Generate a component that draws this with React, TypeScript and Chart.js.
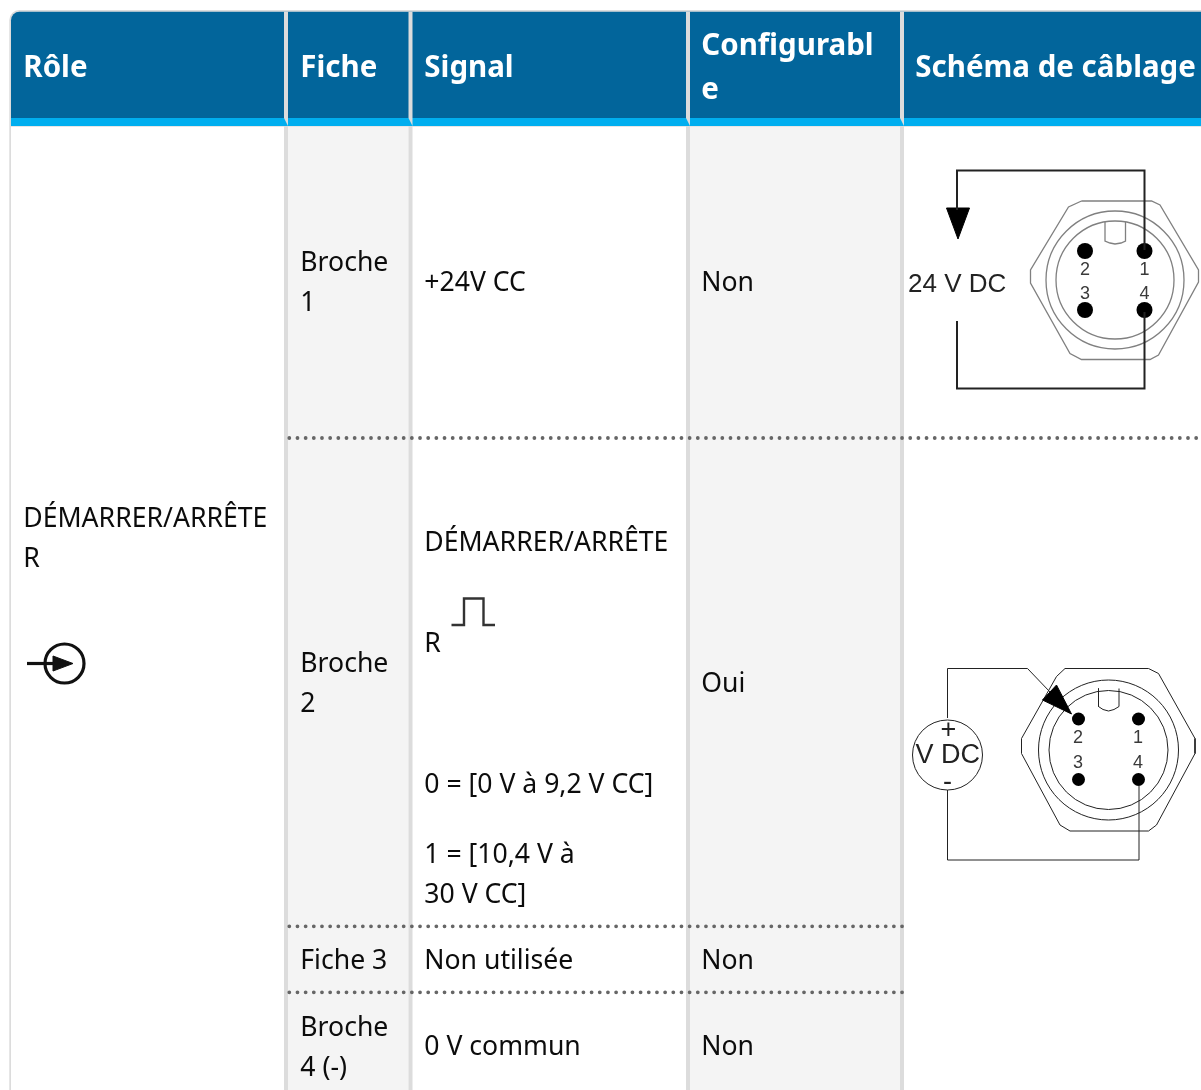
import React, { useEffect, useRef } from "react";
import { Chart, registerables } from "chart.js";

Chart.register(...registerables);

type P = { x: number; y: number };
const pts = (...v: number[]): P[] => {
  const out: P[] = [];
  for (let i = 0; i < v.length; i += 2) out.push({ x: v[i], y: v[i + 1] });
  return out;
};

// ---- table content ----
const headers = ["Rôle", "Fiche", "Signal", "Configurabl|e", "Schéma de câblage"];
const roleLines = ["DÉMARRER/ARRÊTE", "R"];
const pinLabels = ["Broche|1", "Broche|2", "Fiche 3", "Broche|4 (-)"];
const signalLabels = ["+24V CC", "DÉMARRER/ARRÊTE", "R", "0 = [0 V à 9,2 V CC]", "1 = [10,4 V à", "30 V CC]", "Non utilisée", "0 V commun"];
const configLabels = ["Non", "Oui", "Non", "Non"];

// ---- table grid, in the picture's own units ----
const colX = [23.3, 300.3, 424.3, 701.3, 915.3];
const separators = [284, 408.5, 686, 900];
const shadedCols = [[288, 408.5], [690, 900]];
const pinBaselines = [[271, 311], [672, 712], [969], [1036, 1076]];
const signalBaselines = [291, 551, 652, 793, 863, 903, 969, 1055];
const configBaselines = [291, 692, 969, 1055];
const roleBaselines = [527, 567];
const dottedRows = pts(289.3, 438, 1197, 438);
const dottedRow2 = pts(289.3, 926.3, 905, 926.3);
const dottedRow3 = pts(289.3, 992.3, 905, 992.3);

// ---- symbols ----
const pulse = pts(451.5, 625, 464, 625, 464, 598.5, 483.5, 598.5, 483.5, 625, 495, 625);
const startRing = pts(64.5, 663.5);
const startStem = pts(27, 663.5, 54, 663.5);
const startArrow = pts(53, 656, 73, 663.5, 53, 671, 53, 656);

// ---- wiring diagram 1 ----
const d1WireTop = pts(957, 210, 957, 170.5, 1144.5, 170.5, 1144.5, 250);
const d1WireBottom = pts(957, 321, 957, 388.5, 1144.5, 388.5, 1144.5, 312);
const d1Arrow = pts(946.5, 208, 969.5, 208, 958, 239, 946.5, 208);
const d1Pins = pts(1085, 251, 1144.5, 251, 1085, 310, 1144.5, 310);
const d1Center = pts(1115, 280);
const d1Nut = pts(1081.5, 201, 1151.5, 201, 1160, 205, 1198.5, 270, 1198.5, 282, 1158.5, 355, 1150, 359.5, 1081.5, 359.5, 1070, 353.5, 1030.5, 283, 1030.5, 270, 1068.5, 207, 1081.5, 201);
const d1Key = pts(1105, 222, 1105, 241, 1110, 243, 1115, 244, 1121, 243, 1125.5, 241, 1125.5, 222);

// ---- wiring diagram 2 ----
const d2WireTop = pts(947.5, 718, 947.5, 668.5, 1027.5, 668.5, 1050, 692);
const d2WireBottom = pts(947.5, 790, 947.5, 860, 1139, 860, 1139, 785);
const d2Arrow = pts(1042.5, 700, 1056.5, 685, 1071.5, 714, 1042.5, 700);
const d2Pins = pts(1078.5, 719, 1138.5, 719, 1078.5, 779.5, 1138.5, 779.5);
const d2Center = pts(1108.5, 750);
const d2Source = pts(947.5, 755);
const d2Nut = pts(1065, 668.5, 1148.5, 668.5, 1158.5, 673.5, 1195, 738.5, 1195, 753.5, 1156.5, 825, 1148.5, 831, 1070, 831, 1060, 825, 1021.5, 753.5, 1021.5, 738.5, 1056.5, 676.5, 1065, 668.5);
const d2Key = pts(1098.5, 688.5, 1098.5, 706.5, 1103, 709.5, 1108.5, 711, 1114, 709.5, 1119, 706.5, 1119, 688.5);

// ---- diagram labels ----
const digits = ["2", "1", "3", "4"];
const d1DigitSpots = pts(1085, 274.5, 1144.5, 274.5, 1085, 298.5, 1144.5, 298.5);
const d2DigitSpots = pts(1078, 743, 1138, 743, 1078, 768, 1138, 768);

const BLUE = "#02659b";
const STRIPE = "#00aeef";
const RULE = "#dcdcdc";
const SHADE = "#f4f4f4";
const INK = "#0c0c0c";

const line = (data: P[], color: string, width: number, extra: object = {}) => ({
  data, showLine: true, borderColor: color, borderWidth: width, pointRadius: 0, clip: false, tension: 0, fill: false, ...extra,
});
const dots = (data: P[], color: string, radius: number, extra: object = {}) => ({
  data, showLine: false, pointStyle: "circle", pointRadius: radius, pointBackgroundColor: color, pointBorderColor: color, pointBorderWidth: 0, clip: false, ...extra,
});
const ring = (data: P[], color: string, radius: number, width: number) => ({
  data, showLine: false, pointStyle: "circle", pointRadius: radius, pointBackgroundColor: "rgba(0,0,0,0)", pointBorderColor: color, pointBorderWidth: width, clip: false,
});
const solid = (data: P[], color: string) => line(data, color, 1, { fill: "shape", backgroundColor: color });
const dotted = (data: P[]) => line(data, "#666666", 3.8, { borderDash: [0, 8.17], borderCapStyle: "round" });

const tablePlugin = {
  id: "table",
  beforeDatasetsDraw(chart: any) {
    const { ctx, scales } = chart;
    const X = (v: number) => scales.x.getPixelForValue(v);
    const Y = (v: number) => scales.y.getPixelForValue(v);
    const rect = (x0: number, y0: number, x1: number, y1: number, c: string) => {
      ctx.fillStyle = c;
      ctx.fillRect(X(x0), Y(y0), X(x1) - X(x0), Y(y1) - Y(y0));
    };
    ctx.save();
    rect(0, 0, 1201, 1090, "#ffffff");
    // outer frame + rounded header
    ctx.fillStyle = RULE;
    ctx.beginPath();
    ctx.roundRect(X(9.3), Y(10), X(1210) - X(9.3), Y(1100) - Y(10), [10, 0, 0, 0]);
    ctx.fill();
    rect(11, 126, 1201, 1090, "#ffffff");
    rect(11, 126, 1201, 127, "#e6e6e6");
    for (const [a, b] of shadedCols) rect(a, 127, b, 1090, SHADE);
    ctx.fillStyle = BLUE;
    ctx.beginPath();
    ctx.roundRect(X(11), Y(11.7), X(1210) - X(11), Y(118) - Y(11.7), [8.5, 0, 0, 0]);
    ctx.fill();
    rect(11, 118, 1201, 126, STRIPE);
    for (const s of separators) {
      rect(s, 11.7, s + 4, 118, RULE);
      rect(s, 126, s + 4, 1090, RULE);
      ctx.fillStyle = RULE;
      ctx.beginPath();
      ctx.moveTo(X(s), Y(118));
      ctx.lineTo(X(s + 4), Y(118));
      ctx.lineTo(X(s + 4), Y(126));
      ctx.closePath();
      ctx.fill();
    }
    ctx.restore();
  },
  afterDatasetsDraw(chart: any) {
    const { ctx, scales } = chart;
    const X = (v: number) => scales.x.getPixelForValue(v);
    const Y = (v: number) => scales.y.getPixelForValue(v);
    ctx.save();
    ctx.textBaseline = "alphabetic";
    ctx.textAlign = "left";
    // header
    ctx.font = 'bold 29.5px "Noto Sans"';
    ctx.fillStyle = "#ffffff";
    headers.forEach((h, i) => {
      const parts = h.split("|");
      const base = parts.length > 1 ? [54.5, 98.5] : [76.5];
      parts.forEach((p, j) => ctx.fillText(p, X(colX[i]), Y(base[j])));
    });
    // body
    ctx.font = '26.6px "Noto Sans"';
    ctx.fillStyle = INK;
    roleLines.forEach((t, i) => ctx.fillText(t, X(colX[0]), Y(roleBaselines[i])));
    pinLabels.forEach((t, i) => t.split("|").forEach((p, j) => ctx.fillText(p, X(colX[1]), Y(pinBaselines[i][j]))));
    signalLabels.forEach((t, i) => ctx.fillText(t, X(colX[2]), Y(signalBaselines[i])));
    configLabels.forEach((t, i) => ctx.fillText(t, X(colX[3]), Y(configBaselines[i])));
    // diagrams
    ctx.font = '26px "Liberation Sans"';
    ctx.fillStyle = "#222222";
    ctx.fillText("24 V DC", X(908), Y(292));
    ctx.font = '27px "Liberation Sans"';
    ctx.fillText("V DC", X(915.5), Y(763));
    ctx.textAlign = "center";
    ctx.fillText("+", X(948.5), Y(738));
    ctx.fillText("-", X(947.5), Y(790));
    ctx.font = '18px "Liberation Sans"';
    ctx.fillStyle = "#3a3a3a";
    digits.forEach((d, i) => {
      ctx.fillText(d, X(d1DigitSpots[i].x), Y(d1DigitSpots[i].y));
      ctx.fillText(d, X(d2DigitSpots[i].x), Y(d2DigitSpots[i].y));
    });
    ctx.restore();
  },
};

export default function App() {
  const ref = useRef<HTMLCanvasElement | null>(null);
  useEffect(() => {
    document.body.style.margin = "0";
    document.body.style.overflow = "hidden";
    const chart = new Chart(ref.current!, {
      type: "scatter",
      data: {
        datasets: [
          dotted(dottedRows), dotted(dottedRow2), dotted(dottedRow3),
          line(pulse, "#333333", 2.4),
          ring(startRing, "#111111", 19.5, 3.2),
          line(startStem, "#111111", 3.2),
          solid(startArrow, "#111111"),
          line(d1WireTop, "#222222", 2), line(d1WireBottom, "#222222", 2),
          solid(d1Arrow, "#000000"),
          dots(d1Pins, "#000000", 8),
          ring(d1Center, "#808080", 69, 1.3), ring(d1Center, "#808080", 59, 1.3),
          line(d1Nut, "#808080", 1.3), line(d1Key, "#808080", 1.3),
          line(d2WireTop, "#222222", 1), line(d2WireBottom, "#222222", 1),
          solid(d2Arrow, "#000000"),
          dots(d2Pins, "#000000", 6.5),
          ring(d2Source, "#222222", 35, 1),
          ring(d2Center, "#222222", 70, 1), ring(d2Center, "#222222", 59.5, 1),
          line(d2Nut, "#222222", 1), line(d2Key, "#222222", 1),
        ] as any,
      },
      options: {
        animation: false,
        responsive: false,
        events: [],
        layout: { padding: 0, autoPadding: false },
        plugins: { legend: { display: false }, tooltip: { enabled: false }, title: { display: false } },
        scales: {
          x: { type: "linear", min: 0, max: 1201, display: false },
          y: { type: "linear", min: 0, max: 1090, reverse: true, display: false },
        },
      },
      plugins: [tablePlugin],
    } as any);
    return () => chart.destroy();
  }, []);
  return <canvas ref={ref} width={1201} height={1090} style={{ display: "block", width: 1201, height: 1090 }} />;
}
